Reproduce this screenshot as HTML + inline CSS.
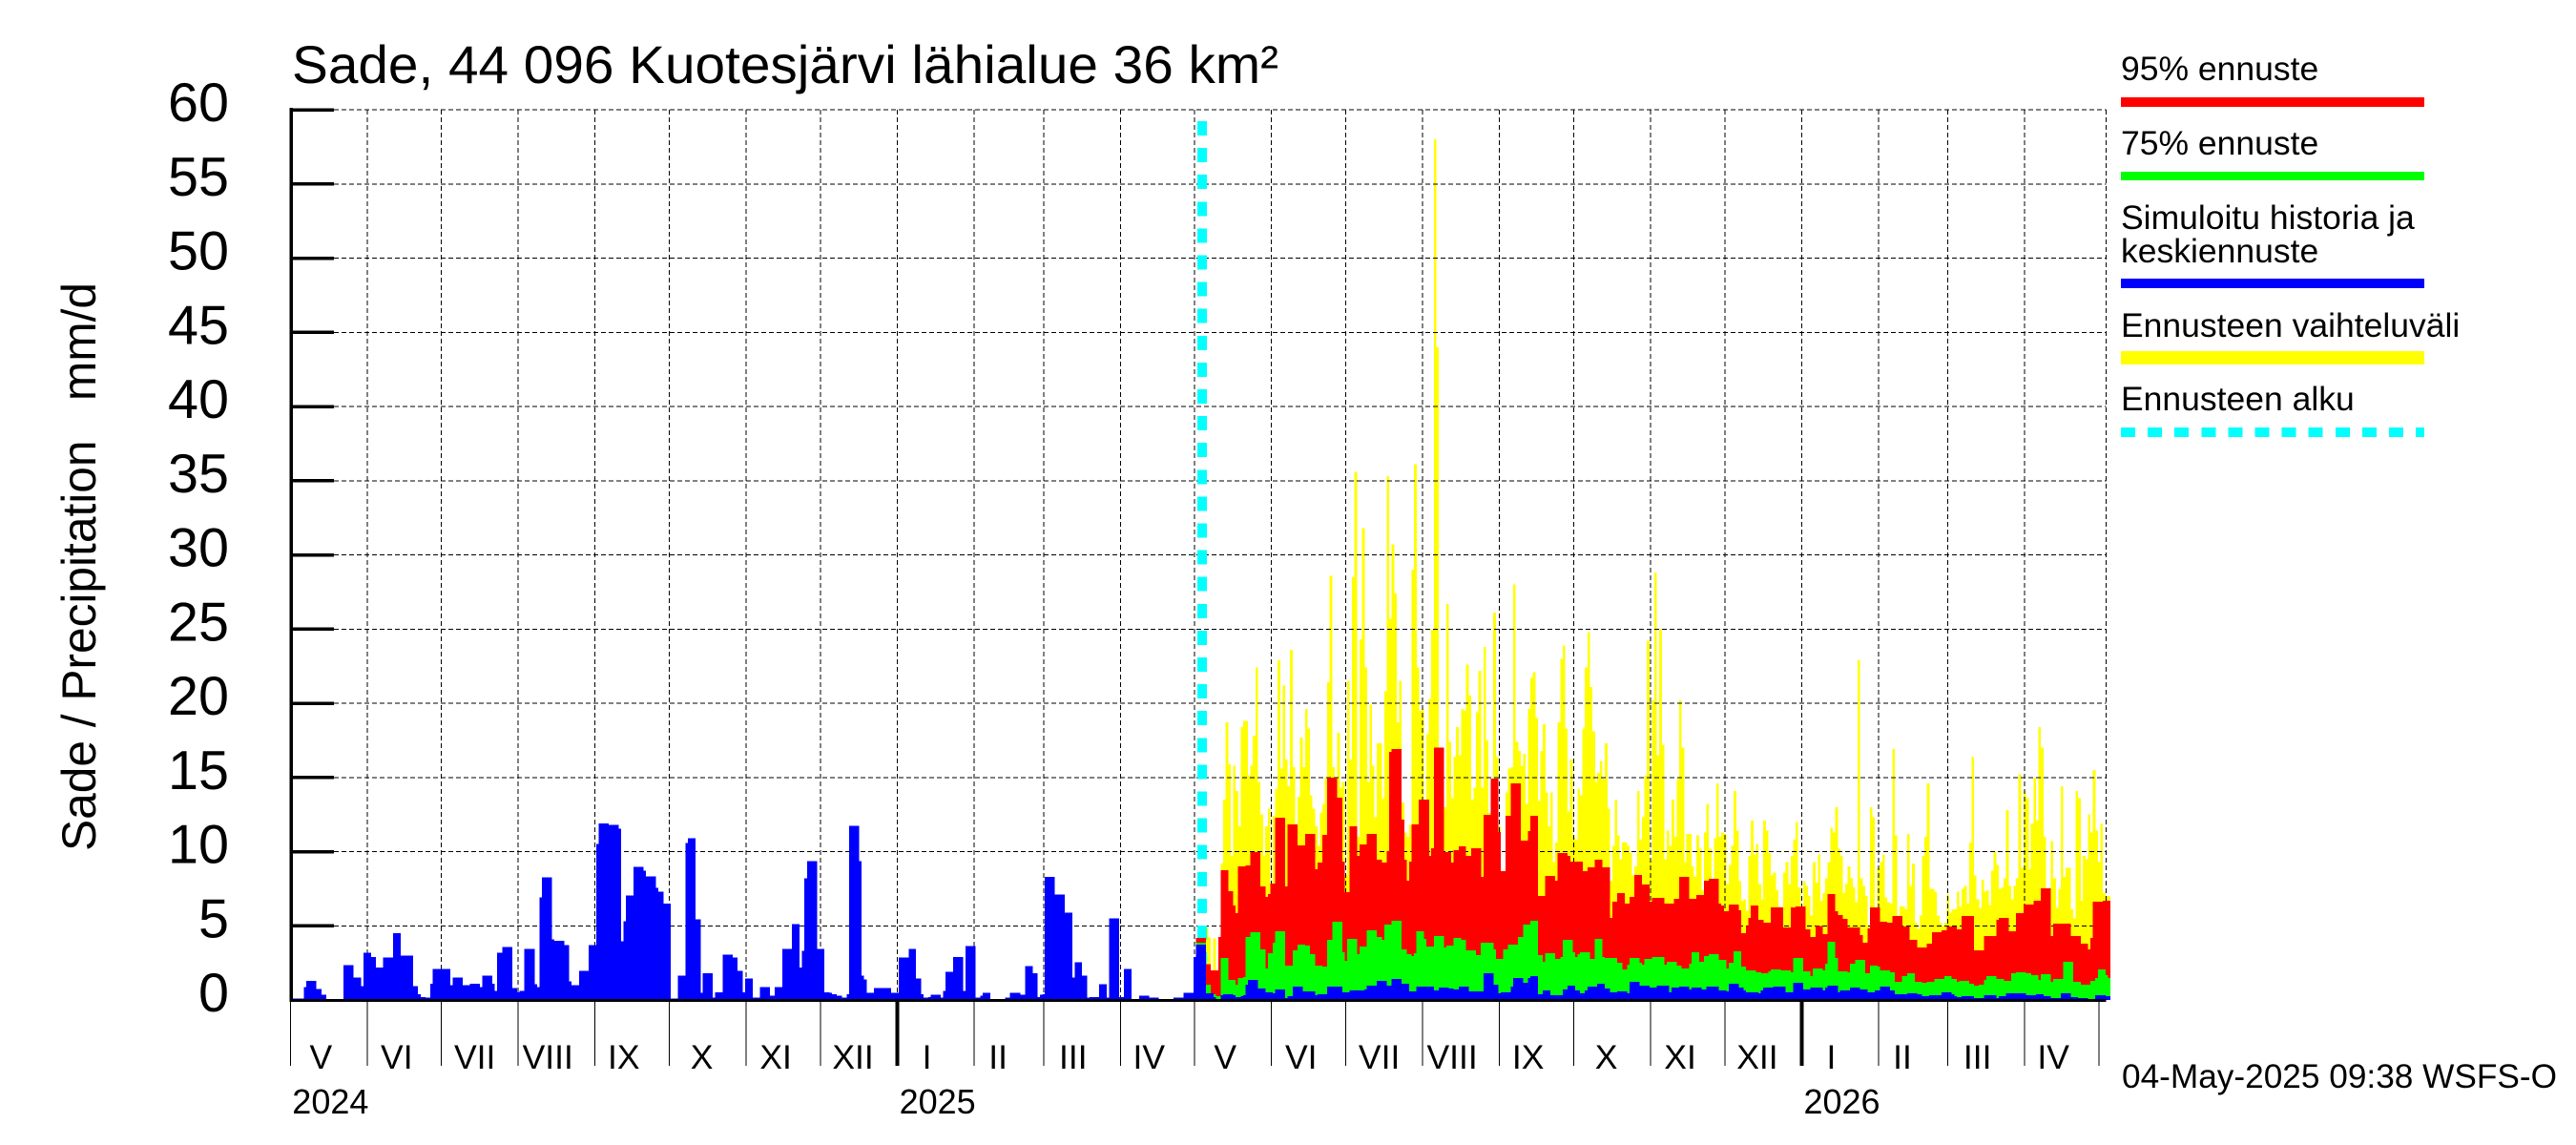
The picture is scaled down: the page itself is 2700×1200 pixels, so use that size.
<!DOCTYPE html>
<html lang="fi">
<head>
<meta charset="utf-8">
<title>Sade, 44 096 Kuotesjärvi lähialue 36 km²</title>
<style>
html,body{margin:0;padding:0;background:#fff;}
svg{display:block;font-family:"Liberation Sans",sans-serif;fill:#000;}
text{fill:#000;white-space:pre;}
</style>
</head>
<body>
<svg id="chart" xmlns="http://www.w3.org/2000/svg" width="2700" height="1200" viewBox="0 0 2700 1200">
<rect x="0" y="0" width="2700" height="1200" fill="#fff"/>
<text x="306" y="87" font-size="56" textLength="1034" lengthAdjust="spacingAndGlyphs">Sade, 44 096 Kuotesjärvi lähialue 36 km²</text>
<text transform="translate(100,892) rotate(-90)" font-size="50" textLength="596" lengthAdjust="spacingAndGlyphs" xml:space="preserve">Sade / Precipitation   mm/d</text>
<g id="layer-yellow" shape-rendering="crispEdges"></g>
<g id="layer-grid" shape-rendering="crispEdges"></g>
<line x1="1260" y1="127" x2="1260" y2="1048" stroke="#00ffff" stroke-width="10" stroke-dasharray="15 13.1" shape-rendering="crispEdges"/>
<g id="layer-red" shape-rendering="crispEdges"></g>
<g id="layer-green" shape-rendering="crispEdges"></g>
<g id="layer-blue" shape-rendering="crispEdges"></g>
<g id="layer-axes" shape-rendering="crispEdges"></g>
<g id="layer-labels"></g>
<g>
<g>
<text x="2223" y="84" font-size="35.5">95% ennuste</text>
<rect x="2223" y="102" width="318" height="10" fill="#ff0000" shape-rendering="crispEdges"/>
</g>
<g>
<text x="2223" y="162" font-size="35.5">75% ennuste</text>
<rect x="2223" y="180" width="318" height="9" fill="#00ff00" shape-rendering="crispEdges"/>
</g>
<g>
<text x="2223" y="240" font-size="35.5">Simuloitu historia ja</text>
<text x="2223" y="275" font-size="35.5">keskiennuste</text>
<rect x="2223" y="292" width="318" height="10" fill="#0000ff" shape-rendering="crispEdges"/>
</g>
<g>
<text x="2223" y="353" font-size="35.5">Ennusteen vaihteluväli</text>
<rect x="2223" y="368" width="318" height="14" fill="#ffff00" shape-rendering="crispEdges"/>
</g>
<g>
<text x="2223" y="430" font-size="35.5">Ennusteen alku</text>
<line x1="2223" y1="453" x2="2541" y2="453" stroke="#00ffff" stroke-width="10" stroke-dasharray="15 13.1" shape-rendering="crispEdges"/>
</g>
</g>
<text x="2224" y="1140" font-size="35" textLength="456" lengthAdjust="spacingAndGlyphs">04-May-2025 09:38 WSFS-O</text>
</svg>
<script>
var yTickValues = [0,5,10,15,20,25,30,35,40,45,50,55,60];
var monthNames = ['V','VI','VII','VIII','IX','X','XI','XII','I','II','III','IV','V','VI','VII','VIII','IX','X','XI','XII','I','II','III','IV'];
var monthLengths = [31,30,31,31,30,31,30,31,31,28,31,30,31,30,31,31,30,31,30,31,31,28,31,30];
var yearLabels = ['2024','2025','2026'];
var yearStartMonths = [0,8,20];
var forecastFirstDay = 366;

var historyValues = [
0,.1,.1,.1,.1,.1,.86,1.3,1.3,1.3,
1.3,.73,.73,.34,.34,0,0,0,0,0,
0,0,2.34,2.34,2.34,2.34,1.5,1.5,1.5,.92,
3.17,3.17,3.17,2.9,2.9,2.2,2.2,2.2,2.85,2.85,
2.85,2.85,4.5,4.5,4.5,3,3,3,3,3,
.92,.92,.4,.2,.2,.15,.15,1.1,2.08,2.08,
2.08,2.08,2.08,2.08,2.08,1,1.5,1.5,1.5,1.5,
1,1,1,1.1,1.1,1.1,1.1,.86,1.63,1.63,
1.63,1.63,1.1,.6,3.17,3.17,3.56,3.56,3.56,3.56,
.8,.8,.53,.6,.6,3.43,3.43,3.43,3.43,1.05,
.86,6.9,8.25,8.25,8.25,8.25,4.07,4,4,4,
4,3.69,3.69,1.24,1,1,1,1.95,1.95,1.95,
1.95,3.69,3.69,3.69,10.5,11.9,11.9,11.9,11.9,11.8,
11.8,11.8,11.8,11.53,3.94,5.3,7.03,7.03,7.03,8.96,
8.96,8.96,8.96,8.7,8.32,8.32,8.32,8.32,7.55,7.29,
7.29,6.5,6.5,6.5,.1,.1,.1,1.63,1.63,1.63,
10.57,10.9,10.9,10.9,5.42,5.42,.47,1.8,1.8,1.8,
1.8,.15,.53,.53,.53,3.04,3.04,3.04,3.04,2.85,
2.85,1.95,1.95,.53,1.44,1.44,1.44,.15,.15,.15,
.86,.86,.86,.86,.28,.28,.86,.86,.86,3.43,
3.43,3.43,3.43,5.1,5.1,5.1,2.2,3.3,8.19,9.35,
9.35,9.35,9.35,3.43,3.43,3.43,.53,.53,.47,.4,
.4,.28,.28,.15,.15,.4,11.73,11.73,11.73,11.73,
9.35,1.63,1.37,.47,.47,.47,.8,.8,.8,.8,
.8,.8,.8,.47,.47,.47,2.85,2.85,2.85,2.85,
3.43,3.43,3.43,1.44,1.44,.4,.15,.15,.2,.34,
.34,.34,.34,.15,.6,1.89,1.89,1.89,2.9,2.9,
2.9,2.9,.6,3.62,3.62,3.62,3.62,.15,.15,.28,
.47,.47,.47,.08,.08,.08,.08,.08,.08,.15,
.15,.47,.47,.47,.47,.34,.34,2.27,2.27,2.27,
1.8,1.8,.2,.34,.4,8.3,8.3,8.3,8.3,7.1,
7.1,7.1,7.1,5.87,5.87,5.87,1.5,2.53,2.53,2.53,
1.63,1.63,.15,.2,.2,.2,.2,1.05,1.05,1.05,
.15,5.5,5.5,5.5,5.5,.2,.2,2.08,2.08,2.08,
.08,.08,.08,.28,.28,.28,.28,.15,.15,.15,
.15,.08,.08,.08,.08,.08,.08,.15,.15,.15,
.15,.47,.47,.47,.47,2.9
];

var rangeValues = [
0,0,0,0,4.9,4.2,2,4.16,2,4.2,
9.2,13.5,18.7,15.9,9.7,15.8,14.1,11.7,18.4,18.8,
18.8,15.1,15.8,17.8,22.4,14.7,12.5,9.7,11.7,12.9,
7.2,12.4,14.2,22.9,15.6,21.2,16.2,14.4,23.6,15.7,
10.6,13.7,17.7,15.7,19.6,18.3,13.8,12.9,11.7,10.4,
12.6,13.2,15,21.4,28.6,15.7,14.4,18,14.3,14.7,
8.4,21.5,16.2,28.5,35.6,11,24.3,31.8,22.4,14.7,
19.9,15.8,12.3,17.3,17.3,13.6,20.8,35.3,25.7,30.7,
27.4,18.7,21.5,13.3,11.3,11,11.8,29,36.1,22.4,
19.5,19.6,10.2,17.9,20.3,25,58,44,10,10,
13,26.7,17.4,13.6,16.4,18.4,16.5,19.6,19.5,22.6,
20.5,13.5,14.3,19.4,22.2,14.3,23.8,17.5,12.6,12.5,
26.1,16.4,11.7,8.7,8,14,15.6,15.7,28,17.4,
16.8,15.8,16.6,13.2,19.6,21.7,22.1,19,13.4,16.8,
18.6,14,11.7,14,9.3,10.6,18.7,23,23.9,18.3,
12.7,16.2,11,10.8,14.2,13.8,18.3,22.4,24.8,21.1,
18.1,14.7,15.3,16.1,14.9,17.3,12.9,8,10.4,13.5,
11.1,9.5,10.6,10.6,10.4,9.9,8.4,9,14.1,10.8,
12.3,15.1,24.2,9.4,20.2,28.8,16.5,25,17.2,9.5,
11.4,10.4,13.5,11,14.9,20.2,17,9.3,11.2,11.2,
9,8.3,11.1,10.2,7.4,11.3,13.2,10.2,8,10.9,
14.6,11,11.3,11.2,7.8,9.1,10.4,14.1,11.4,8,
6.7,6.8,6,9.7,12.1,9.8,10.5,7.8,6.8,12.1,
11.4,9.9,8.4,8.6,7.4,6.3,5.7,8.6,9.3,7.8,
9.7,10.8,12,7.6,6.3,8,7.7,7,5.7,9.3,
7.9,9.8,6.7,7.2,8.2,9.3,11.6,11.3,13,10.2,
9.7,7.2,7.8,9,8.2,7.6,6.6,22.9,8.2,7.7,
7,5,13,12.3,6.1,8.9,9.3,9.8,6.9,6.6,
6.5,16.9,11.1,5.7,6.3,6.3,6.1,11.2,7.7,9.2,
5.2,4.8,5.7,9.7,11,14.6,7.5,7.5,7.3,5.7,
5.2,5,5.2,7.1,5.9,6.1,6.1,7.3,6.3,7.5,
7.7,6.5,10.6,16.4,8.4,6.8,6.2,8.1,7.3,7.4,
6.4,8.7,10,9.1,7.5,7.6,8.2,12.8,7.7,6.8,
7.7,8.2,15.2,8.9,14.1,13.6,8.8,11.9,15,12.1,
18.4,17,11,7.2,6.5,10.7,8.2,6.2,7.5,14.4,
8.3,8.9,8.9,6.1,5.5,14.1,13.6,6.7,9.7,9.5,
12.5,11.3,15.5,11.4,9.3,11.9,7.2,7,7
];

var p95Values = [
4.18,4.18,4.18,4.18,2.4,2.4,2,2,2,4.24,
8.75,8.75,8.75,7.33,7.33,6.37,5.85,9,9,9,
9.07,9.07,9.97,9.97,9.97,9.97,7.65,7.65,6.95,7.14,
7.85,7.85,12.28,12.28,12.28,12.28,7.65,11.83,11.83,11.83,
11.83,10.42,10.42,10.42,11.19,11.19,11.19,11.19,8.81,9.26,
9.26,11.13,11.13,15,15,15,15,13.63,13.63,9.32,
7.27,7.27,11.7,11.7,11.7,9.71,10.48,10.48,10.48,11.19,
11.19,11.19,11.19,9.45,9.45,9.26,9.26,10.03,16.72,16.9,
16.9,16.9,16.9,12.15,9.45,8.04,9.32,11.83,11.83,11.83,
13.5,13.5,13.5,13.5,9.71,10.22,17,17,17,17,
9.97,9.97,9.97,9.26,10.1,10.1,10.35,10.35,10.35,9.71,
9.71,10.22,10.22,10.22,10.22,8.3,12.48,12.48,12.48,14.92,
14.92,14.92,11.32,8.68,8.68,12.41,12.41,14.6,14.6,14.6,
14.6,10.74,10.74,10.74,11.38,12.41,12.41,12.41,7,7,
7,8.36,8.36,8.36,8.36,8.04,9.9,9.9,9.9,9.9,
9.71,9.32,9.32,9.32,9.32,9.32,8.68,8.68,8.94,8.94,
8.94,9.45,9.45,9.45,8.94,8.94,8.94,5.53,6.62,6.62,
7.2,7.2,7.2,6.5,6.5,6.95,6.95,8.42,8.42,8.42,
7.78,7.78,7.78,6.62,6.88,6.88,6.88,
6.88,6.88,6.5,6.5,6.5,6.5,6.82,6.82,8.3,8.3,
8.3,8.3,6.82,6.82,6.82,7.07,7.07,7.07,8.04,8.04,
8.17,8.17,8.17,8.17,6.5,6.37,5.98,5.98,6.43,6.43,
6.43,6.43,6.05,4.5,4.5,5,5.53,6.37,6.37,6.37,
5.4,5.4,5.2,5.2,5.2,6.24,6.24,6.24,6.24,6.24,
4.89,4.89,4.89,6.24,6.24,6.3,6.3,6.3,6.3,4.76,
4.76,4.24,4.24,5,5,5,4.44,4.44,7.14,7.14,
7.14,5.98,5.72,5.72,5.47,5.47,4.89,4.89,4.89,4.89,
4.89,4.37,3.86,3.86,4.82,6.24,6.24,6.24,6.24,5.27,
5.27,5.27,5.2,5.2,5.66,5.66,5.66,5.66,4.95,4.95,
4.95,4.05,4.05,4.05,3.54,3.54,3.54,3.54,3.79,3.79,
4.57,4.57,4.57,4.57,4.69,4.69,4.95,4.95,4.95,4.95,
4.76,4.76,5.66,5.66,5.66,5.66,5.66,3.34,3.34,3.34,
3.34,4.31,4.31,4.31,4.31,4.31,5.4,5.53,5.53,5.53,
5.53,4.63,4.63,4.63,5.85,5.85,5.85,6.43,6.43,6.43,
6.43,6.69,6.69,6.69,7.52,7.52,7.52,7.52,4.31,5.14,
5.14,5.14,5.14,5.14,5.14,5.14,4.31,4.31,4.31,4.31,
3.79,3.79,3.79,3.41,4.18,6.62,6.62,6.62,6.62,6.69,
6.69,6.69
];

var p75Values = [
3.86,3.86,3.86,3.86,1.03,1.03,.39,.39,.26,.26,
2.83,2.83,2.83,1.35,1.35,1.35,1.03,1.48,1.48,1.54,
4.24,4.24,4.57,4.57,4.57,4.57,3.41,3.41,2.12,3.15,
3.15,3.86,4.63,4.63,4.63,4.63,2.32,2.32,2.32,3.34,
3.34,3.73,3.73,3.73,3.67,3.67,3.09,3.09,2.32,2.32,
2.32,2.25,2.25,4.05,4.05,5.27,5.27,5.27,5.27,3.22,
2.64,4.12,4.12,4.12,4.12,3.09,3.6,3.6,3.6,4.69,
4.69,4.69,4.69,4.24,4.24,4.05,5.08,5.08,5.08,5.34,
5.34,5.34,5.34,3.41,3.41,3.09,3.09,2.96,3.15,4.63,
4.63,4.63,4.12,3.6,3.6,3.6,4.31,4.31,4.31,4.31,
3.54,3.67,3.67,3.67,4.18,4.18,4.18,4.05,4.05,3.34,
3.34,3.34,3.34,3.02,3.02,3.86,3.86,3.86,3.86,3.86,
3.41,2.77,2.77,2.77,3.41,3.41,3.73,3.73,3.73,3.73,
4.24,4.24,5.08,5.08,5.08,5.34,5.34,5.34,3.02,3.02,
2.57,3.15,3.15,3.15,3.15,2.77,2.77,2.89,4.05,4.05,
4.05,4.05,3.22,2.89,3.09,3.22,3.22,3.22,3.22,2.77,
2.77,4.12,4.12,4.12,2.89,2.83,2.83,2.83,2.83,2.83,
2.51,2.51,2.06,2.06,2.38,2.83,2.83,2.83,2.83,2.51,
2.38,2.77,2.77,2.77,2.89,2.89,2.89,
2.89,2.89,2.38,2.57,2.57,2.57,2.57,2.32,2.32,2.12,
2.12,2.12,2.44,3.22,3.22,3.22,2.57,2.57,2.96,2.96,
3.09,3.09,3.09,3.09,2.7,2.7,2.7,2.12,2.51,2.51,
3.28,3.28,3.28,2.25,2.25,1.99,1.99,1.99,1.99,1.86,
1.86,1.8,1.8,1.8,1.93,2.06,2.06,2.06,2.06,1.99,
1.99,1.99,1.99,1.86,2.83,2.83,2.83,2.83,1.93,1.93,
1.93,1.61,2.12,2.12,2.12,2.12,1.99,2.44,3.92,3.92,
3.92,2.83,1.93,1.93,1.93,1.93,1.86,2.44,2.44,2.7,
2.7,2.7,2.7,1.8,1.8,2.32,2.32,2.32,2.25,1.99,
1.99,1.99,1.99,1.86,1.86,1.22,1.22,1.22,1.61,1.61,
1.8,1.8,1.8,1.22,1.22,1.22,1.16,1.16,1.22,1.22,
1.22,1.41,1.41,1.41,1.41,1.61,1.61,1.61,1.41,1.41,
1.22,1.29,1.29,1.29,1.29,1.09,1.09,.96,.96,1.03,
1.03,1.35,1.61,1.61,1.61,1.61,1.41,1.41,1.41,1.29,
1.29,1.29,1.8,1.8,1.86,1.86,1.86,1.86,1.8,1.8,
1.67,1.67,1.67,1.35,1.74,1.74,1.74,1.74,1.22,1.41,
1.41,1.41,1.41,2.57,2.57,2.57,2.57,1.22,1.22,1.22,
1.03,1.03,1.03,1.03,1.29,1.29,1.48,2.06,2.06,2.06,
1.67,1.48
];

var medianValues = [
3.73,3.73,3.73,3.73,.45,.45,.45,.19,.06,.06,
.32,.39,.39,.39,.39,.32,.19,.19,.26,.32,
1.03,1.35,1.35,1.35,1.35,.77,.77,.77,.51,.51,
.51,.45,.71,.71,.71,.71,.13,.26,.26,.9,
.9,.9,.9,.58,.58,.58,.58,.58,.32,.39,
.39,.39,.39,.9,.9,.9,.9,.9,.9,.51,
.51,.51,.64,.64,.64,.64,.64,.64,.7,.96,
.96,.96,.96,1.29,1.29,1.29,1.29,.96,.96,1.41,
1.41,1.41,1.41,1.09,1.09,1.09,.58,.58,.58,.9,
.9,.9,.9,.9,.9,.9,.64,.64,.84,.84,
.84,.84,.77,.77,.71,.71,.9,.9,.9,.9,
.58,.58,.58,.58,.58,.58,1.8,1.8,1.8,1.8,
1.03,1.03,.45,.51,.51,.51,.51,.9,1.48,1.48,
1.48,1.48,1.16,1.16,1.48,1.61,1.61,1.61,.39,.39,
.64,.64,.64,.32,.32,.32,.32,.32,.7,.7,
.96,.96,.96,.64,.64,.45,.45,.64,.9,.9,
.9,.9,1.09,1.09,1.09,.77,.77,.51,.51,.51,
.58,.58,.58,.58,.45,1.22,1.22,1.22,1.22,.96,
.96,.96,.96,.84,.84,.84,.96,
.96,.96,.96,.96,.51,.84,.84,.84,.9,.9,
.9,.9,.7,.84,.84,.84,.84,.7,.7,.9,
.9,.9,.9,.9,.64,.64,.64,.58,1.09,1.09,
1.09,1.09,.84,.84,.64,.51,.51,.51,.51,.51,
.45,.64,.84,.84,.84,.84,.9,.9,.9,.9,
.9,.51,.51,.51,1.16,1.16,1.16,1.16,.7,.7,
.7,.84,.84,.84,.84,.84,.64,.84,.96,.96,
.96,.96,.51,.64,.64,.64,.64,.84,.84,.84,
.84,.7,.7,.7,.51,.51,.51,.64,.64,.9,
.9,.9,.9,.64,.64,.39,.39,.39,.39,.39,
.45,.45,.45,.45,.39,.39,.26,.26,.26,.32,
.32,.32,.32,.32,.51,.51,.51,.51,.39,.26,
.19,.19,.26,.26,.26,.26,.26,.13,.13,.13,
.13,.32,.32,.32,.32,.32,.13,.26,.26,.26,
.45,.45,.45,.45,.45,.45,.45,.45,.32,.32,
.32,.32,.39,.39,.39,.26,.26,.26,.13,.13,
.13,.13,.45,.45,.45,.45,.19,.19,.19,.13,
.13,.13,.13,.06,.06,.06,.32,.32,.32,.32,
.26,.26
];

var SVG_NS = 'http://www.w3.org/2000/svg';
function xScale(day){ return 304.3 + 2.597 * day; }
function yScale(value){ return 1048 - 15.55 * value; }
function monthLabelOffset(name){
  if (name === 'II') return 25;
  if (name === 'VII') return 35;
  if (name === 'X' || name === 'XII') return 34;
  if (name === 'V') return 32;
  if (name === 'IX' || name === 'IV') return 30;
  return 31;
}

function drawBars(layerId, values, firstDay, color){
  var layer = document.getElementById(layerId);
  for (var i = 0; i < values.length; i++) {
    var bar = document.createElementNS(SVG_NS, 'rect');
    var top = yScale(values[i]);
    
    
    bar.setAttribute('x', (xScale(firstDay + i) - 1.3).toFixed(2));
    bar.setAttribute('y', top.toFixed(2));
    bar.setAttribute('width', '2.75');
    bar.setAttribute('height', (1048 - top).toFixed(2));
    bar.setAttribute('fill', color);
    layer.appendChild(bar);
  }
}

function addLine(parent, x1, y1, x2, y2, width, dash){
  var line = document.createElementNS(SVG_NS, 'line');
  line.setAttribute('x1', x1);
  line.setAttribute('y1', y1);
  line.setAttribute('x2', x2);
  line.setAttribute('y2', y2);
  line.setAttribute('stroke', '#000');
  line.setAttribute('stroke-width', width);
  if (dash) line.setAttribute('stroke-dasharray', dash);
  parent.appendChild(line);
  return line;
}

function addText(parent, str, x, y, size, anchor){
  var t = document.createElementNS(SVG_NS, 'text');
  t.setAttribute('x', x);
  t.setAttribute('y', y);
  t.setAttribute('font-size', size);
  t.setAttribute('text-anchor', anchor);
  t.textContent = str;
  parent.appendChild(t);
  return t;
}

drawBars('layer-yellow', rangeValues, forecastFirstDay, '#ffff00');
drawBars('layer-red', p95Values, forecastFirstDay, '#ff0000');
drawBars('layer-green', p75Values, forecastFirstDay, '#00ff00');
drawBars('layer-blue', historyValues, 0, '#0000ff');
drawBars('layer-blue', medianValues, forecastFirstDay, '#0000ff');

var grid = document.getElementById('layer-grid');
var axes = document.getElementById('layer-axes');
var labels = document.getElementById('layer-labels');
var plotRight = 2207.5;
var plotTop = yScale(60);
var plotBottom = yScale(0);

yTickValues.forEach(function(v){
  var y = yScale(v);
  if (v > 0) {
    var g = addLine(grid, 350, y, plotRight, y, 1, '5 3');
    
    
    var tick = addLine(axes, 305, y, 350, y, 3.5);
    
    
  }
  var lab = addText(labels, String(v), 240, y + 12, 57.5, 'end');
  
  
});

var day = 0;
monthNames.forEach(function(name, i){
  var x = xScale(day);
  var isYearStart = yearStartMonths.indexOf(i) > 0;
  if (i > 0) {
    var g = addLine(grid, x, plotTop, x, plotBottom, 1, '5 3');
    
    
  }
  var tick = addLine(axes, x, plotBottom, x, 1117, isYearStart ? 4 : 1);
  
  
  var lab = addText(labels, name, x + monthLabelOffset(name), 1120, 35.5, 'middle');
  
  
  var yi = yearStartMonths.indexOf(i);
  if (yi >= 0) {
    var yl = addText(labels, yearLabels[yi], x + 2, 1167, 36, 'start');
    
    
  }
  day += monthLengths[i];
});
var lastTick = addLine(axes, xScale(day), plotBottom, xScale(day), 1117, 1);



var right = addLine(grid, plotRight, plotTop, plotRight, plotBottom, 1, '5 3');


var yAxis = addLine(axes, 305, plotTop - 2, 305, plotBottom + 2, 3.5);


var xAxis = addLine(axes, 304, plotBottom + 0.3, plotRight, plotBottom + 0.3, 3);


var topTick = addLine(axes, 305, plotTop, 350, plotTop, 3.5);


var topBorder = addLine(grid, 350, plotTop, plotRight, plotTop, 1, '5 3');


</script>
</body>
</html>
